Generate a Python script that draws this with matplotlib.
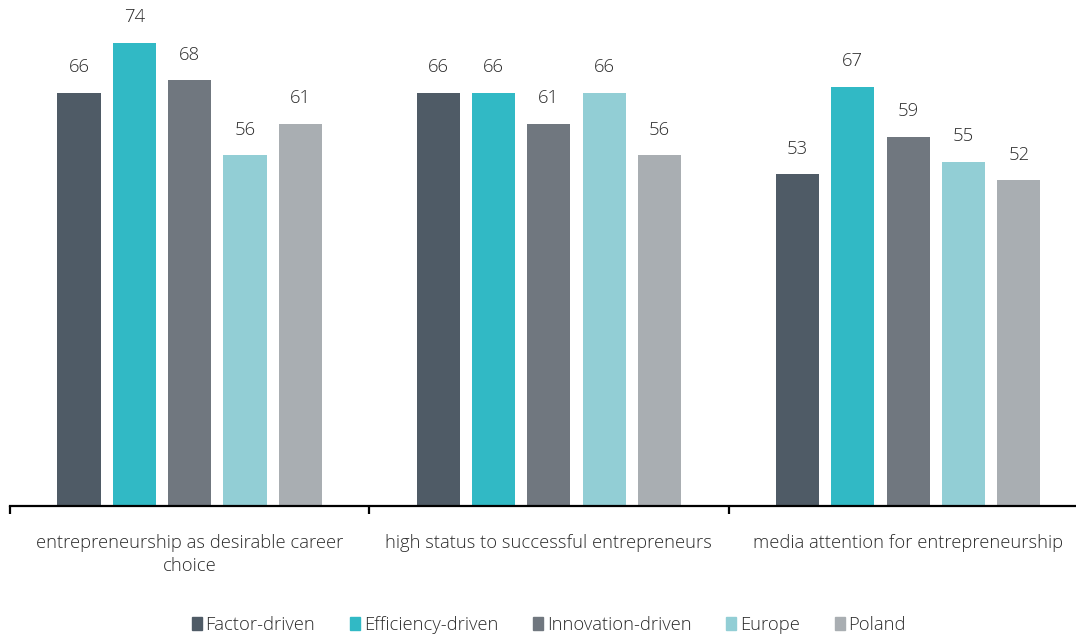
import numpy as np
from matplotlib import pyplot as plt
from matplotlib.patches import Patch

categories = ['entrepreneurship as desirable career\nchoice',
              'high status to successful entrepreneurs',
              'media attention for entrepreneurship']
series = ['Factor-driven', 'Efficiency-driven', 'Innovation-driven', 'Europe', 'Poland']
values = [
    [66, 66, 53],
    [74, 66, 67],
    [68, 61, 59],
    [56, 66, 55],
    [61, 56, 52],
]
colors = ['#4f5b66', '#31b9c5', '#70777f', '#92ced5', '#a9aeb2']

plt.rcParams['font.family'] = ['Open Sans', 'DejaVu Sans']
plt.rcParams['font.weight'] = 'light'

fig = plt.figure(figsize=(10.76, 6.39), dpi=100)
ax = fig.add_axes([0.0093, 0.208, 0.995, 0.784])

x = np.arange(len(categories))
pitch = 0.154
width = 0.12
for i, (name, vals, c) in enumerate(zip(series, values, colors)):
    pos = x + (i - 2) * pitch
    ax.bar(pos, vals, width=width, color=c, label=name)
    for px, v in zip(pos, vals):
        ax.annotate(str(v), (px, v), xytext=(0, 12), textcoords='offset points',
                    ha='center', va='bottom', fontsize=13.3, color='#2b2b2b')

ax.set_xlim(-0.5, 2.48)
ax.set_ylim(0, 80)
for s in ['top', 'right', 'left']:
    ax.spines[s].set_visible(False)
ax.spines['bottom'].set_linewidth(1.6)
ax.set_yticks([])
ax.set_xticks([-0.5, 0.5, 1.5])
ax.set_xticklabels([])
ax.tick_params(axis='x', length=6, width=1.6, direction='out')
for xi, lab in zip(x, categories):
    ax.annotate(lab, (xi, 0), xytext=(0, -20), textcoords='offset points',
                ha='center', va='top', fontsize=13.2, color='#2b2b2b',
                linespacing=1.4, annotation_clip=False)

handles = [Patch(color=c, label=s) for s, c in zip(series, colors)]
fig.legend(handles=handles, loc='center', bbox_to_anchor=(0.51, 0.022), ncol=5,
           frameon=False, fontsize=13.2, handlelength=0.55, handleheight=0.75,
           handletextpad=0.2, columnspacing=1.9, labelcolor='#2b2b2b')

fig.savefig('out.png', dpi=100)
